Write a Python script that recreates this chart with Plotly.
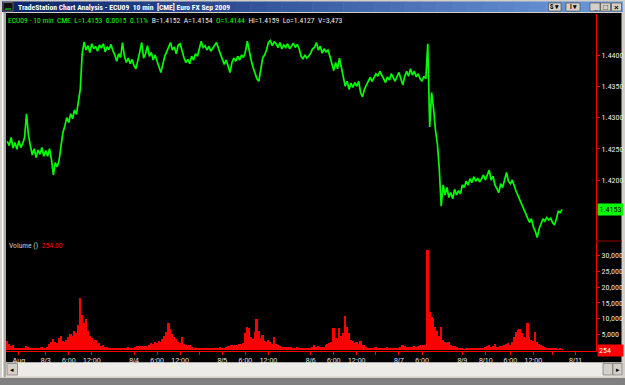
import plotly.graph_objects as go

W, H = 625, 385
ML, MR, MT, MB = 6, 29, 14, 34
PW = W - ML - MR
PH = H - MT - MB

def fx(px):
    return (px - ML) / PW

def fy(py):
    return (H - MB - py) / PH

# ---- data: half-hour samples, trading hours from 8/3 00:00 CT ----
T0 = -10.0
STEP = 0.5
close = [
    1.4262, 1.4255, 1.4268, 1.4251, 1.4260, 1.4249, 1.4263, 1.4252, 1.4258, 1.4268,
    1.4306, 1.4272, 1.4255, 1.4240, 1.4250, 1.4236, 1.4248, 1.4241, 1.4252, 1.4238,
    1.4247, 1.4238, 1.4250, 1.4233, 1.4208, 1.4228, 1.4221, 1.4232, 1.4255, 1.4276,
    1.4287, 1.4300, 1.4292, 1.4306, 1.4298, 1.4312, 1.4305, 1.4322, 1.4345, 1.4402,
    1.4421, 1.4408, 1.4415, 1.4404, 1.4418, 1.4410, 1.4414, 1.4406, 1.4416, 1.4411,
    1.4418, 1.4405, 1.4413, 1.4409, 1.4417, 1.4407, 1.4400, 1.4390, 1.4402, 1.4396,
    1.4420, 1.4398, 1.4388, 1.4395, 1.4386, 1.4393, 1.4383, 1.4378, 1.4390, 1.4405,
    1.4420, 1.4395, 1.4402, 1.4415, 1.4398, 1.4404, 1.4392, 1.4400, 1.4390, 1.4380,
    1.4372, 1.4385, 1.4398, 1.4405, 1.4412, 1.4420, 1.4408, 1.4413, 1.4402, 1.4416,
    1.4418, 1.4406, 1.4396, 1.4388, 1.4393, 1.4386, 1.4398, 1.4392, 1.4402, 1.4398,
    1.4410, 1.4422, 1.4412, 1.4415, 1.4408, 1.4414, 1.4406, 1.4411, 1.4415, 1.4420,
    1.4410, 1.4402, 1.4395, 1.4385, 1.4392, 1.4380, 1.4372, 1.4388, 1.4395, 1.4390,
    1.4398, 1.4392, 1.4400, 1.4396, 1.4405, 1.4422, 1.4405, 1.4392, 1.4380, 1.4372,
    1.4362, 1.4358, 1.4378, 1.4395, 1.4400, 1.4408, 1.4420, 1.4423, 1.4415, 1.4421,
    1.4418, 1.4412, 1.4420, 1.4410, 1.4416, 1.4412, 1.4418, 1.4410, 1.4414, 1.4419,
    1.4412, 1.4417, 1.4410, 1.4398, 1.4394, 1.4400, 1.4395, 1.4398, 1.4403, 1.4410,
    1.4412, 1.4420, 1.4408, 1.4414, 1.4403, 1.4410, 1.4405, 1.4408, 1.4398, 1.4385,
    1.4375, 1.4388, 1.4378, 1.4395, 1.4380, 1.4365, 1.4350, 1.4358, 1.4345, 1.4355,
    1.4348, 1.4356, 1.4350, 1.4358, 1.4340, 1.4333, 1.4345, 1.4352, 1.4358, 1.4364,
    1.4358, 1.4365, 1.4370, 1.4366, 1.4374, 1.4368, 1.4362, 1.4356, 1.4365, 1.4360,
    1.4370, 1.4364, 1.4358, 1.4366, 1.4372, 1.4362, 1.4352, 1.4366, 1.4374, 1.4366,
    1.4378, 1.4368, 1.4374, 1.4365, 1.4370, 1.4362, 1.4358, 1.4366, 1.4362, 1.4418,
    1.4285, 1.4340, 1.4315, 1.4280, 1.4258, 1.4218, 1.4158, 1.4192, 1.4176, 1.4188,
    1.4172, 1.4180, 1.4170, 1.4185, 1.4176, 1.4183, 1.4178, 1.4192, 1.4188, 1.4198,
    1.4192, 1.4202, 1.4196, 1.4205, 1.4198, 1.4203, 1.4197, 1.4202, 1.4208, 1.4200,
    1.4210, 1.4216, 1.4200, 1.4206, 1.4192, 1.4186, 1.4180, 1.4194, 1.4188, 1.4200,
    1.4212, 1.4198, 1.4194, 1.4200, 1.4190, 1.4182, 1.4175, 1.4168, 1.4162, 1.4154,
    1.4148, 1.4140, 1.4132, 1.4138, 1.4125, 1.4118, 1.4108, 1.4122, 1.4132, 1.4138,
    1.4134, 1.4140, 1.4136, 1.4139, 1.4132, 1.4128, 1.4138, 1.4150, 1.4148, 1.4153,
]
volume = [
    2800, 1800, 1200, 1500, 700, 500, 400, 600, 500, 700,
    1200, 900, 600, 500, 700, 500, 600, 400, 800, 600,
    700, 900, 1800, 2400, 3500, 2600, 2200, 3700, 4400, 2800,
    2600, 3200, 4000, 5200, 4300, 6200, 5500, 7800, 16400, 11000,
    8600, 9800, 6200, 4400, 3800, 2600, 3100, 1800, 2200, 1400,
    1600, 1100, 900, 600, 500, 700, 500, 400, 600, 500,
    400, 600, 500, 800, 500, 400, 700, 900, 1200, 800,
    1400, 1000, 1200, 900, 1500, 2100, 1800, 2600, 2200, 3000,
    2700, 3600, 4400, 5800, 8600, 6800, 5200, 4000, 3400, 2600,
    2200, 4200, 1900, 1500, 1200, 1600, 900, 700, 600, 500,
    400, 600, 500, 400, 700, 500, 600, 400, 500, 700,
    600, 800, 500, 700, 1000, 1400, 1200, 1600, 1300, 1700,
    1400, 1900, 1600, 2200, 5400, 7400, 6900, 4200, 3400, 5600,
    10000, 6200, 3800, 4800, 3000, 2600, 3200, 2400, 2000, 4200,
    1800, 1600, 1300, 1100, 1000, 900, 1100, 800, 900, 700,
    600, 800, 500, 600, 400, 500, 700, 500, 600, 800,
    1600, 900, 1400, 1000, 800, 1100, 1500, 1800, 2100, 2400,
    7100, 3800, 3200, 6900, 4600, 5300, 10800, 7400, 5300, 3200,
    2800, 2200, 2600, 1900, 2900, 1700, 1500, 900, 700, 600,
    500, 400, 800, 500, 600, 400, 500, 700, 1000, 600,
    500, 400, 600, 500, 700, 1000, 1600, 1200, 900, 1100,
    800, 1000, 1300, 900, 1200, 1500, 1100, 1600, 1400, 31800,
    12200, 10600, 9800, 7200, 6000, 4600, 7400, 3200, 2600, 2100,
    2400, 1700, 1400, 1200, 900, 600, 400, 500, 300, 400,
    500, 400, 600, 400, 500, 700, 500, 600, 400, 900,
    1200, 1600, 1000, 1300, 1800, 1100, 900, 1400, 1200, 1600,
    1800, 2100, 1700, 2400, 4200, 5600, 6400, 6600, 5300, 4100,
    3700, 8700, 4200, 3200, 2800, 5700, 2600, 2000, 1600, 1200,
    1000, 600, 500, 400, 500, 400, 500, 300, 400, 254,
]
t = [T0 + STEP * i for i in range(len(close))]

price_ticks = [1.4200, 1.4250, 1.4300, 1.4350, 1.4400]
vol_ticks = [5000, 10000, 15000, 20000, 25000, 30000]
x_tick_vals = [-7, 0, 6, 12, 23, 29, 35, 40, 46, 52, 58, 69, 75, 81, 86,
               92, 98, 108.5, 114.6, 121, 127, 132, 138]
x_tick_text = ["Aug", "8/3", "6:00", "12:00", "8/4", "6:00", "12:00", "",
               "8/5", "6:00", "12:00", "8/6", "6:00", "12:00", "",
               "8/7", "6:00", "8/9", "8/10", "6:00", "12:00", "", "8/11"]
last_price = 1.4153
last_volume = 254

FONT = "Roboto Condensed, Arial"
GREEN = "#00ff00"
RED = "#ff0000"
TXT = "#e8e8e8"

fig = go.Figure()
fig.add_trace(go.Bar(x=t, y=volume, width=STEP, marker=dict(color=RED, line=dict(width=0)),
                     xaxis="x", yaxis="y", hoverinfo="skip"))
fig.add_trace(go.Scatter(x=t, y=close, mode="lines", line=dict(color=GREEN, width=1.7),
                         xaxis="x", yaxis="y2", hoverinfo="skip"))

split = fy(241)
shapes = []
shapes.append(dict(type="rect", xref="paper", yref="paper", x0=fx(6), x1=fx(621.5), y0=fy(13), y1=fy(362.5),
                   fillcolor="#000000", line=dict(width=0), layer="below"))
c0 = (10, 36, 106)
c1 = (110, 155, 220)
N = 40
x_start, x_end = 2, 622.5
for i in range(N):
    a = i / (N - 1)
    col = "rgb(%d,%d,%d)" % tuple(int(c0[k] + a * (c1[k] - c0[k])) for k in range(3))
    xa = x_start + (x_end - x_start) * i / N
    xb = x_start + (x_end - x_start) * (i + 1) / N + 0.5
    shapes.append(dict(type="rect", xref="paper", yref="paper", x0=fx(xa), x1=fx(xb), y0=fy(1.5), y1=fy(12),
                       fillcolor=col, line=dict(width=0), layer="below"))
shapes.append(dict(type="rect", xref="paper", yref="paper", x0=fx(3), x1=fx(13), y0=fy(2.5), y1=fy(11),
                   fillcolor="#101010", line=dict(color="#606060", width=1), layer="above"))
shapes.append(dict(type="line", xref="paper", yref="paper", x0=fx(5), x1=fx(11), y0=fy(9), y1=fy(9),
                   line=dict(color=GREEN, width=1), layer="above"))
for (a, b) in [(548.5, 561), (566, 580), (590, 600), (600.5, 610.5), (611.5, 621.5)]:
    shapes.append(dict(type="rect", xref="paper", yref="paper", x0=fx(a), x1=fx(b), y0=fy(3), y1=fy(11),
                       fillcolor="#d4d0c8", line=dict(color="#404040", width=0.6), layer="above"))
shapes.append(dict(type="line", xref="paper", yref="paper", x0=fx(2.5), x1=fx(2.5), y0=fy(12), y1=fy(377),
                   line=dict(color="#ffffff", width=1), layer="below"))
shapes.append(dict(type="line", xref="paper", yref="paper", x0=fx(5), x1=fx(5), y0=fy(12), y1=fy(377),
                   line=dict(color="#808080", width=1), layer="below"))
shapes.append(dict(type="line", xref="paper", yref="paper", x0=fx(596), x1=fx(621.5), y0=split, y1=split,
                   line=dict(color="#800000", width=1.2), layer="above"))
shapes.append(dict(type="rect", xref="paper", yref="paper", x0=fx(6), x1=fx(622), y0=fy(362.5), y1=fy(376.5),
                   fillcolor="#ecebe8", line=dict(width=0), layer="below"))
for (a, b) in [(7, 17.5), (603, 612.5), (613, 622)]:
    shapes.append(dict(type="rect", xref="paper", yref="paper", x0=fx(a), x1=fx(b), y0=fy(363.5), y1=fy(375),
                       fillcolor="#d4d0c8", line=dict(color="#808080", width=0.8), layer="above"))
shapes.append(dict(type="rect", xref="paper", yref="paper", x0=fx(0), x1=fx(625), y0=fy(378), y1=fy(385.5),
                   fillcolor="#808080", line=dict(width=0), layer="below"))

NB = "\u00a0"
def sp(n):
    return NB * n

status = (
    f'<span style="color:{GREEN}">ECU09 - 10 min{sp(2)}CME{sp(2)}L=1.4153{sp(2)}0.0015{sp(2)}0.11%</span>{sp(2)}'
    f'<span style="color:{TXT}">B=1.4152{sp(2)}A=1.4154</span>{sp(2)}'
    f'<span style="color:{GREEN}">O=1.4144</span>{sp(2)}'
    f'<span style="color:{TXT}">Hi=1.4159{sp(2)}Lo=1.4127{sp(2)}V=3,473</span>'
)

annotations = [
    dict(x=fx(16), y=fy(7), xref="paper", yref="paper", xanchor="left", yanchor="middle", showarrow=False,
         text="<b>TradeStation Chart Analysis - ECU09" + sp(2) + "10 min" + sp(2) + "[CME] Euro FX Sep 2009</b>",
         font=dict(family=FONT, size=7.6, color="#ffffff")),
    dict(x=fx(554.5), y=fy(7), xref="paper", yref="paper", xanchor="center", yanchor="middle", showarrow=False,
         text="<b>S ▾</b>", font=dict(family=FONT, size=6.5, color="#000000")),
    dict(x=fx(573), y=fy(7), xref="paper", yref="paper", xanchor="center", yanchor="middle", showarrow=False,
         text="<b>I ▾</b>", font=dict(family=FONT, size=6.5, color="#000000")),
    dict(x=fx(595), y=fy(7.5), xref="paper", yref="paper", xanchor="center", yanchor="middle", showarrow=False,
         text="<b>_</b>", font=dict(family="Arial", size=7, color="#000000")),
    dict(x=fx(605.5), y=fy(7), xref="paper", yref="paper", xanchor="center", yanchor="middle", showarrow=False,
         text="□", font=dict(family="Arial", size=8, color="#000000")),
    dict(x=fx(616.5), y=fy(7), xref="paper", yref="paper", xanchor="center", yanchor="middle", showarrow=False,
         text="<b>×</b>", font=dict(family="Arial", size=8, color="#000000")),
    dict(x=fx(6), y=fy(20.5), xref="paper", yref="paper", xanchor="left", yanchor="middle", showarrow=False,
         text=status, font=dict(family=FONT, size=7.6, color=TXT)),
    dict(x=fx(7), y=fy(245.7), xref="paper", yref="paper", xanchor="left", yanchor="middle", showarrow=False,
         text=f'<span style="color:#c8c8c8">Volume ()</span>{sp(2)}<span style="color:{RED}">{last_volume:.2f}</span>',
         font=dict(family=FONT, size=7.6, color=TXT)),
    dict(x=fx(596.5), y=last_price, xref="paper", yref="y2", xanchor="left", yanchor="middle", showarrow=False,
         text=f"{last_price:.4f}", bgcolor=GREEN, borderpad=1, width=23,
         font=dict(family=FONT, size=8, color="#000000")),
    dict(x=fx(596.5), y=fy(350.5), xref="paper", yref="paper", xanchor="left", yanchor="middle", showarrow=False,
         text=f"{last_volume}", bgcolor=RED, borderpad=1, width=23, align="left",
         font=dict(family=FONT, size=8, color="#ffffff")),
    dict(x=fx(12), y=fy(369.5), xref="paper", yref="paper", xanchor="center", yanchor="middle", showarrow=False,
         text="◂", font=dict(family="Arial", size=7, color="#000000")),
    dict(x=fx(617.5), y=fy(369.5), xref="paper", yref="paper", xanchor="center", yanchor="middle", showarrow=False,
         text="▸", font=dict(family="Arial", size=7, color="#000000")),
]

fig.update_layout(
    width=W, height=H,
    margin=dict(l=ML, r=MR, t=MT, b=MB, pad=0),
    paper_bgcolor="#d4d0c8",
    plot_bgcolor="#000000",
    showlegend=False,
    bargap=0,
    xaxis=dict(domain=[0, 1], anchor="y", range=[-10.34, 143.31], showgrid=False, zeroline=False,
               showline=True, linecolor=RED, linewidth=1, ticks="outside", ticklen=3, tickcolor=RED,
               tickwidth=1, tickvals=x_tick_vals, ticktext=x_tick_text, tickangle=0,
               tickfont=dict(family="Arial", size=7, color=TXT), automargin=False),
    yaxis=dict(domain=[0, split], anchor="x", side="right", range=[-318, 34670], showgrid=False,
               zeroline=False, showline=True, linecolor=RED, linewidth=1, ticks="outside", ticklen=3,
               tickcolor=RED, tickvals=vol_ticks, ticktext=[f"{v:,}" for v in vol_ticks],
               tickfont=dict(family=FONT, size=8, color=TXT), automargin=False),
    yaxis2=dict(domain=[split, 1], anchor="x", side="right", range=[1.41024, 1.44656], showgrid=False,
                zeroline=False, showline=True, linecolor=RED, linewidth=1, ticks="outside", ticklen=3,
                tickcolor=RED, tickvals=price_ticks, ticktext=[f"{p:.4f}" for p in price_ticks],
                tickfont=dict(family=FONT, size=8, color=TXT), automargin=False),
    shapes=shapes,
    annotations=annotations,
)

fig.write_html("out.html")
